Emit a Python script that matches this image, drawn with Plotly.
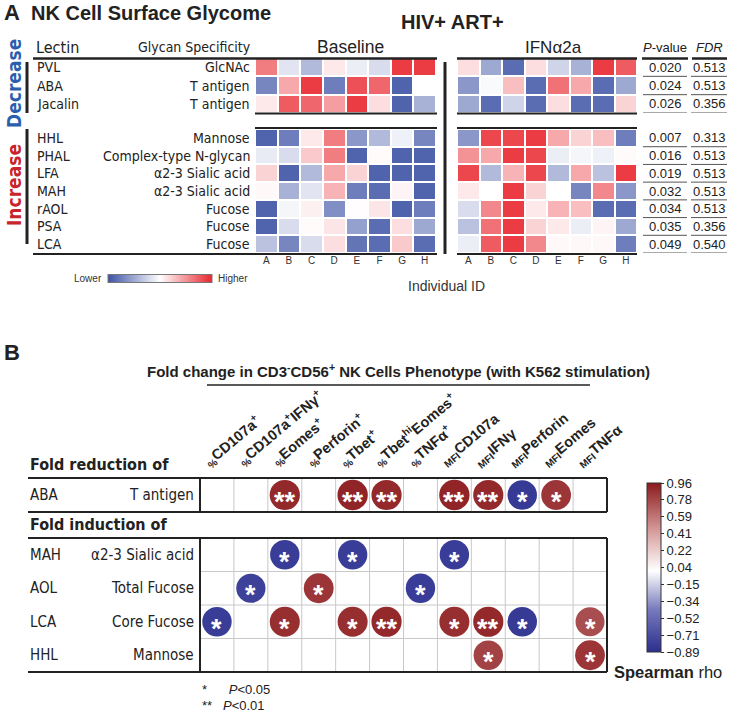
import plotly.graph_objects as go

W, H = 729, 712

# ---------------- DATA ----------------
ids = ["A", "B", "C", "D", "E", "F", "G", "H"]
lectins_dec = ["PVL", "ABA", "Jacalin"]
glycans_dec = ["GlcNAc", "T antigen", "T antigen"]
lectins_inc = ["HHL", "PHAL", "LFA", "MAH", "rAOL", "PSA", "LCA"]
glycans_inc = ["Mannose", "Complex-type N-glycan", "α2-3 Sialic acid", "α2-3 Sialic acid",
               "Fucose", "Fucose", "Fucose"]

base_dec = [
    [0.60, -0.15, -0.40, 0.10, -0.10, -0.20, 0.90, 0.90],
    [-0.70, 0.40, 0.90, -0.75, 0.80, 0.70, -0.90, 0.00],
    [0.10, 0.75, 0.70, 0.45, 0.90, 0.15, -0.90, -0.45],
]
ifn_dec = [
    [0.15, -0.50, -0.85, 0.15, -0.25, -0.45, 0.90, 0.75],
    [-0.60, -0.03, 0.30, -0.85, 0.65, 0.40, -0.85, -0.50],
    [-0.50, -0.85, -0.25, -0.85, 0.15, -0.85, -0.85, 0.20],
]
base_inc = [
    [-0.90, -0.75, 0.10, 0.60, -0.60, -0.40, -0.08, -0.70],
    [-0.12, -0.20, 0.25, 0.60, -0.90, 0.02, -0.90, -0.90],
    [0.20, -0.90, -0.40, 0.40, 0.20, -0.90, -0.90, -0.90],
    [0.03, -0.45, -0.15, 0.35, -0.75, -0.85, 0.05, -0.90],
    [-0.90, -0.05, 0.07, -0.65, 0.01, 0.12, -0.90, -0.75],
    [-0.90, -0.20, 0.02, 0.12, -0.55, -0.85, 0.15, -0.50],
    [-0.35, -0.70, -0.20, 0.15, -0.80, -0.85, 0.25, -0.85],
]
ifn_inc = [
    [-0.60, 0.85, 0.85, 0.90, 0.40, 0.20, 0.30, -0.75],
    [0.50, 0.40, 0.90, 0.85, -0.10, -0.05, -0.08, 0.02],
    [0.85, -0.40, 0.35, 0.85, -0.40, 0.40, -0.35, 0.90],
    [0.10, 0.00, 0.90, 0.20, 0.00, -0.70, 0.55, -0.60],
    [-0.20, 0.55, 0.90, 0.10, 0.35, 0.30, -0.85, -0.85],
    [-0.35, 0.65, 0.90, 0.20, 0.10, -0.10, 0.05, -0.50],
    [-0.10, 0.75, 0.90, 0.55, 0.03, 0.03, 0.03, -0.75],
]
pval_dec = ["0.020", "0.024", "0.026"]
fdr_dec = ["0.513", "0.513", "0.356"]
pval_inc = ["0.007", "0.016", "0.019", "0.032", "0.034", "0.035", "0.049"]
fdr_inc = ["0.313", "0.513", "0.513", "0.513", "0.513", "0.356", "0.540"]

# Panel B
phenotypes = [
    "<sub>%</sub>CD107a<sup>+</sup>", "<sub>%</sub>CD107a<sup>+</sup>IFNγ<sup>+</sup>",
    "<sub>%</sub>Eomes<sup>+</sup>", "<sub>%</sub>Perforin<sup>+</sup>",
    "<sub>%</sub>Tbet<sup>+</sup>", "<sub>%</sub>Tbet<sup>hi</sup>Eomes<sup>+</sup>",
    "<sub>%</sub>TNFα<sup>+</sup>", "<sub>MFI</sub>CD107a", "<sub>MFI</sub>IFNγ",
    "<sub>MFI</sub>Perforin", "<sub>MFI</sub>Eomes", "<sub>MFI</sub>TNFα",
]
red_lectins = ["ABA"]
red_glycans = ["T antigen"]
ind_lectins = ["MAH", "AOL", "LCA", "HHL"]
ind_glycans = ["α2-3 Sialic acid", "Total Fucose", "Core Fucose", "Mannose"]

rho_ABA = [None, None, 0.90, None, 0.92, 0.90, None, 0.92, 0.90, -0.82, 0.85, None]
sig_ABA = ["", "", "**", "", "**", "**", "", "**", "**", "*", "*", ""]
rho_MAH = [None, None, -0.80, None, -0.80, None, None, -0.80, None, None, None, None]
sig_MAH = ["", "", "*", "", "*", "", "", "*", "", "", "", ""]
rho_AOL = [None, -0.78, None, 0.85, None, None, -0.80, None, None, None, None, None]
sig_AOL = ["", "*", "", "*", "", "", "*", "", "", "", "", ""]
rho_LCA = [-0.80, None, 0.88, None, 0.88, 0.90, None, 0.88, 0.90, -0.82, None, 0.75]
sig_LCA = ["*", "", "*", "", "*", "**", "", "*", "**", "*", "", "*"]
rho_HHL = [None, None, None, None, None, None, None, None, 0.80, None, None, 0.85]
sig_HHL = ["", "", "", "", "", "", "", "", "*", "", "", "*"]

cb_ticks = [0.96, 0.78, 0.59, 0.41, 0.22, 0.04, -0.15, -0.34, -0.52, -0.71, -0.89]

# ---------------- HELPERS ----------------
def X(p):
    return p / W

def Y(p):
    return 1 - p / H

def dom_x(a, b):
    return [X(a), X(b)]

def dom_y(top, bot):
    return [Y(bot), Y(top)]

NARROW = "Liberation Sans Narrow, DejaVu Sans Condensed, Arial Narrow, Liberation Sans, sans-serif"
SANS = "Liberation Sans, Arial, Helvetica, sans-serif"
DARK = "#222222"

heat_cs = [[0, "#3d52a4"], [0.5, "#ffffff"], [1, "#e8262d"]]
rho_cs = [[0, "#2c2f8e"], [0.25, "#7679bb"], [0.48, "#ffffff"], [0.72, "#d69a9a"], [1, "#8b1a1d"]]

fig = go.Figure()
shapes = []
ann = []

def line(x0, y0, x1, y1, w=2, color=DARK, xref="paper", yref="paper", layer="above"):
    shapes.append(dict(type="line", x0=x0, y0=y0, x1=x1, y1=y1, xref=xref, yref=yref,
                       line=dict(color=color, width=w), layer=layer))

def text(x, y, t, size=13, family=SANS, color=DARK, xanchor="center", yanchor="middle",
         xref="paper", yref="paper", **kw):
    ann.append(dict(x=x, y=y, text=t, showarrow=False, xref=xref, yref=yref,
                    xanchor=xanchor, yanchor=yanchor,
                    font=dict(size=size, family=family, color=color), **kw))

# ---------------- PANEL A ----------------
BX0, BX1 = 255, 436
IX0, IX1 = 457, 637
DY0, DY1 = 58, 113
NY0, NY1 = 129, 253

heat_specs = [
    (base_dec, "x", "y", BX0, BX1, DY0, DY1, False),
    (ifn_dec, "x2", "y2", IX0, IX1, DY0, DY1, False),
    (base_inc, "x3", "y3", BX0, BX1, NY0, NY1, True),
    (ifn_inc, "x4", "y4", IX0, IX1, NY0, NY1, True),
]
layout_axes = {}
for k, (z, xa, ya, x0, x1, y0, y1, showlab) in enumerate(heat_specs):
    n = len(z)
    fig.add_trace(go.Heatmap(
        z=z, x=ids, y=list(range(n)), xaxis=xa, yaxis=ya,
        colorscale=heat_cs, zmin=-1, zmax=1, xgap=2, ygap=2,
        showscale=(k == 0),
        colorbar=dict(orientation="h", x=X(160), xanchor="center", y=Y(279), yanchor="middle",
                      len=104, lenmode="pixels", thickness=8, thicknessmode="pixels",
                      xpad=0, ypad=0,
                      showticklabels=False, ticks="", outlinewidth=1, outlinecolor="#777"),
        hoverinfo="skip"))
    xname = "xaxis" + ("" if xa == "x" else xa[1:])
    yname = "yaxis" + ("" if ya == "y" else ya[1:])
    layout_axes[xname] = dict(domain=dom_x(x0, x1), anchor=ya, showgrid=False, zeroline=False,
                              showticklabels=showlab, ticks="", showline=False,
                              tickfont=dict(size=10, family=SANS, color="#333"), fixedrange=True)
    layout_axes[yname] = dict(domain=dom_y(y0, y1), anchor=xa, range=[n - 0.5, -0.5],
                              showgrid=False, zeroline=False, showticklabels=False,
                              showline=False, fixedrange=True)

# row labels, p-values, FDR
for lect, gly, pv, fd, ya in [(lectins_dec, glycans_dec, pval_dec, fdr_dec, "y"),
                              (lectins_inc, glycans_inc, pval_inc, fdr_inc, "y3")]:
    for i in range(len(lect)):
        text(X(35), i, lect[i], size=14, family=NARROW, xanchor="left", yref=ya)
        text(X(252), i, gly[i], size=14, family=NARROW, xanchor="right", yref=ya)
        text(X(665), i, pv[i], size=13, family=SANS, yref=ya)
        text(X(709), i, fd[i], size=13, family=SANS, yref=ya)
        line(X(643), i + 0.5, X(687), i + 0.5, w=1, color="#555", yref=ya)
        line(X(691), i + 0.5, X(727), i + 0.5, w=1, color="#555", yref=ya)

text(X(2), Y(13), "<b>A</b>", size=22, xanchor="left")
text(X(29), Y(13), "<b>NK Cell Surface Glycome</b>", size=20, xanchor="left")
text(X(452), Y(22), "<b>HIV+ ART+</b>", size=20)
text(X(34), Y(47), "Lectin", size=16, family=NARROW, xanchor="left")
text(X(253), Y(47), "Glycan Specificity", size=14, family=NARROW, xanchor="right")
text(X(350), Y(47), "Baseline", size=17.5, family=SANS)
text(X(553), Y(47), "IFNα2a", size=17, family=SANS)
text(X(665), Y(48), "<i>P</i>-value", size=13, family=SANS)
text(X(709), Y(48), "<i>FDR</i>", size=13, family=SANS)
text(X(14), Y(84), "<b>Decrease</b>", size=19, family=NARROW, color="#2b5fae", textangle=-90)
text(X(14), Y(185), "<b>Increase</b>", size=19, family=NARROW, color="#c8242b", textangle=-90)
text(X(446), Y(286), "Individual ID", size=14, family=SANS, color="#333")
text(X(104), Y(279), "Lower", size=10, family=SANS, color="#333", xanchor="right")
text(X(216), Y(279), "Higher", size=10, family=SANS, color="#333", xanchor="left")

line(X(33), Y(58.5), X(437), Y(58.5), w=2.5)
line(X(IX0), Y(58.5), X(IX1), Y(58.5), w=2.5)
line(X(642), Y(58.5), X(688), Y(58.5), w=2.5)
line(X(692), Y(58.5), X(727), Y(58.5), w=2.5)
line(X(BX0), Y(113.5), X(437), Y(113.5), w=2)
line(X(IX0), Y(113.5), X(IX1), Y(113.5), w=2)
line(X(BX0), Y(128), X(437), Y(128), w=2)
line(X(IX0), Y(128), X(IX1), Y(128), w=2)
line(X(33), Y(254), X(437), Y(254), w=2)
line(X(IX0), Y(254), X(IX1), Y(254), w=2)
line(X(445), Y(62), X(445), Y(254), w=3)
line(X(27), Y(62), X(27), Y(113), w=3)
line(X(27), Y(129), X(27), Y(244), w=3)

# ---------------- PANEL B ----------------
GX0, GX1 = 200, 607
TY0, TY1 = 478, 512
LY0, LY1 = 538, 672
ncol = len(phenotypes)

layout_axes["xaxis5"] = dict(domain=dom_x(GX0, GX1), anchor="y5", range=[-0.5, ncol - 0.5],
                             showgrid=False, zeroline=False, showticklabels=False,
                             showline=False, fixedrange=True)
layout_axes["yaxis5"] = dict(domain=dom_y(TY0, TY1), anchor="x5", range=[0.5, -0.5],
                             showgrid=False, zeroline=False, showticklabels=False,
                             showline=False, fixedrange=True)
layout_axes["xaxis6"] = dict(domain=dom_x(GX0, GX1), anchor="y6", range=[-0.5, ncol - 0.5],
                             showgrid=False, zeroline=False, showticklabels=False,
                             showline=False, fixedrange=True)
layout_axes["yaxis6"] = dict(domain=dom_y(LY0, LY1), anchor="x6", range=[3.5, -0.5],
                             showgrid=False, zeroline=False, showticklabels=False,
                             showline=False, fixedrange=True)

def dots(rows, xa, ya, showscale):
    xs, ys, cs, ss = [], [], [], []
    for r, (rho, sig) in enumerate(rows):
        for c in range(ncol):
            if rho[c] is not None:
                xs.append(c)
                ys.append(r)
                cs.append(rho[c])
                ss.append(23 + 8 * abs(rho[c]))
                ann.append(dict(x=c, y=r, xref=xa, yref=ya, text="<b>" + sig[c] + "</b>",
                                showarrow=False, xanchor="center", yanchor="middle", yshift=-7,
                                font=dict(size=27, family=SANS, color="white")))
    fig.add_trace(go.Scatter(
        x=xs, y=ys, xaxis=xa, yaxis=ya, mode="markers", hoverinfo="skip",
        marker=dict(size=ss, color=cs, colorscale=rho_cs, cmin=-0.89, cmax=0.96,
                    line=dict(width=0), opacity=1,
                    showscale=showscale,
                    colorbar=dict(x=X(647), xanchor="left", y=Y((483 + 652) / 2), yanchor="middle",
                                  len=169, lenmode="pixels", thickness=14, thicknessmode="pixels",
                                  xpad=0, ypad=0,
                                  tickvals=cb_ticks,
                                  ticktext=[("−%.2f" % -v) if v < 0 else "%.2f" % v for v in cb_ticks],
                                  ticks="outside", ticklen=3, tickcolor="#333",
                                  tickfont=dict(size=13, family=SANS, color=DARK),
                                  outlinewidth=1, outlinecolor="#333")),
        showlegend=False))

dots([(rho_ABA, sig_ABA)], "x5", "y5", True)
dots([(rho_MAH, sig_MAH), (rho_AOL, sig_AOL), (rho_LCA, sig_LCA), (rho_HHL, sig_HHL)],
     "x6", "y6", False)

# grid lines
for c in range(ncol - 1):
    line(c + 0.5, Y(TY0), c + 0.5, Y(TY1), w=1, color="#c8c8c8", xref="x5", layer="below")
    line(c + 0.5, Y(LY0), c + 0.5, Y(LY1), w=1, color="#c8c8c8", xref="x6", layer="below")
for r in range(len(ind_lectins) - 1):
    line(X(GX0), r + 0.5, X(GX1), r + 0.5, w=1, color="#c8c8c8", yref="y6", layer="below")

for yy in [TY0, TY1, LY0, LY1]:
    line(X(28), Y(yy), X(GX1), Y(yy), w=2)
for xx in [GX0, GX1]:
    line(X(xx), Y(TY0), X(xx), Y(TY1), w=2)
    line(X(xx), Y(LY0), X(xx), Y(LY1), w=2)

# row labels B
for i in range(len(red_lectins)):
    text(X(28), i, red_lectins[i], size=15, family=NARROW, xanchor="left", yref="y5")
    text(X(196), i, red_glycans[i], size=15, family=NARROW, xanchor="right", yref="y5")
for i in range(len(ind_lectins)):
    text(X(28), i, ind_lectins[i], size=15, family=NARROW, xanchor="left", yref="y6")
    text(X(196), i, ind_glycans[i], size=15, family=NARROW, xanchor="right", yref="y6")

# column labels
for c, lab in enumerate(phenotypes):
    text(c, Y(TY0), "<b>" + lab + "</b>", size=14.5, family=SANS, xanchor="left", yanchor="bottom",
         xref="x5", textangle=-40, xshift=-20, yshift=5)

text(X(2), Y(352), "<b>B</b>", size=22, xanchor="left")
text(X(398), Y(370),
     "<b>Fold change in CD3<sup>-</sup>CD56<sup>+</sup> NK Cells Phenotype (with K562 stimulation)</b>",
     size=15)
line(X(207), Y(385), X(590), Y(385), w=1.5)
text(X(28), Y(465), "<b>Fold reduction of</b>", size=16, family=NARROW, xanchor="left")
text(X(28), Y(524), "<b>Fold induction of</b>", size=16, family=NARROW, xanchor="left")
text(X(612), Y(672), "<b>Spearman</b> rho", size=16.5, family=SANS, xanchor="left")
text(X(200), Y(689), "*      <i>P</i>&lt;0.05", size=13, family=SANS, xanchor="left")
text(X(200), Y(705), "**   <i>P</i>&lt;0.01", size=13, family=SANS, xanchor="left")

fig.update_layout(
    width=W, height=H, margin=dict(l=0, r=0, t=0, b=0),
    paper_bgcolor="white", plot_bgcolor="white",
    showlegend=False, shapes=shapes, annotations=ann,
    **layout_axes,
)
fig.write_html("out.html", config={"displayModeBar": False},
               post_script="document.body.style.margin='0px';document.body.style.padding='0px';")
